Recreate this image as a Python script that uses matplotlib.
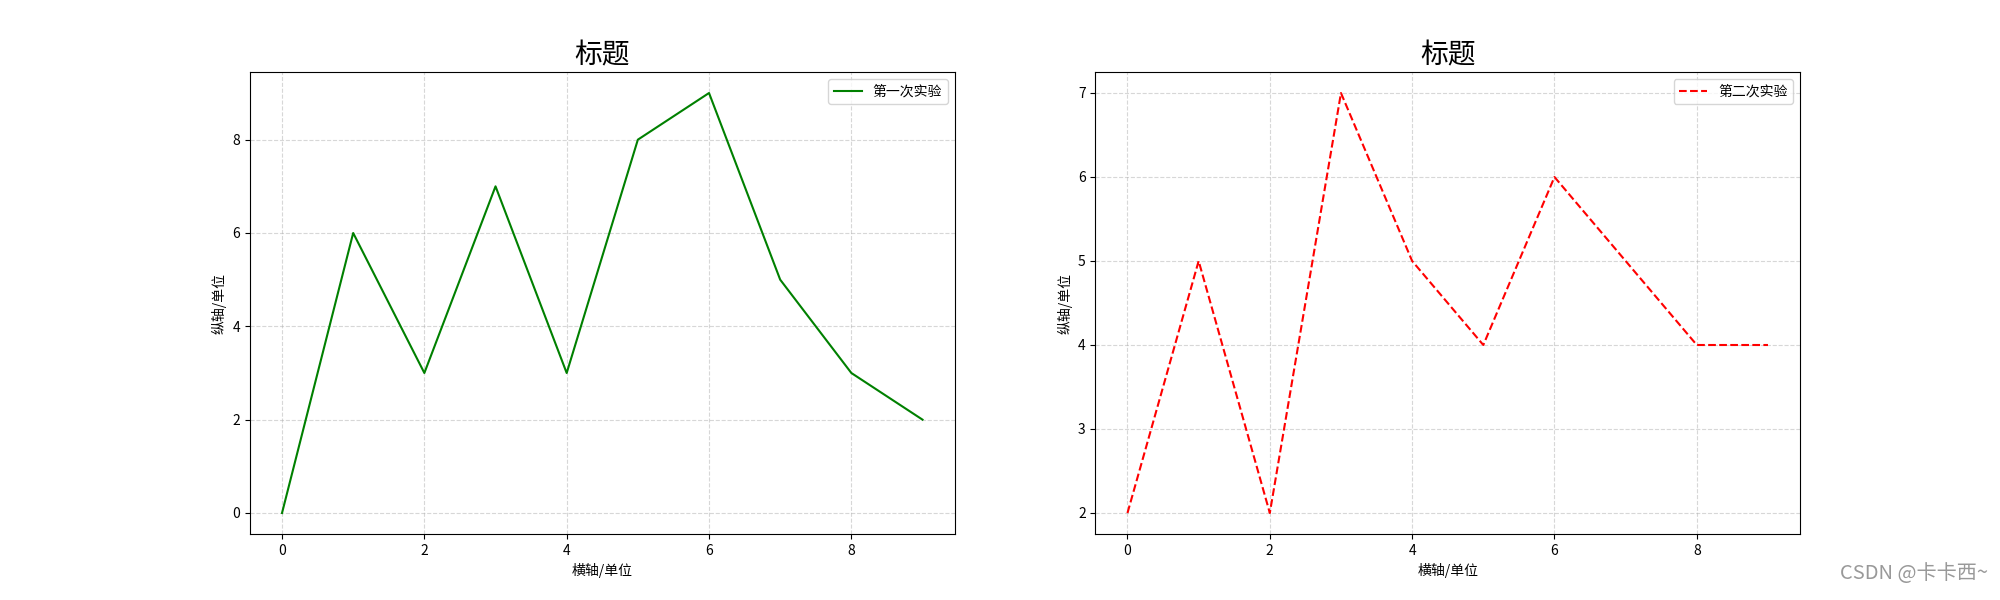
import matplotlib
matplotlib.use("Agg")
import matplotlib.pyplot as plt

plt.rcParams['font.family'] = ['Noto Sans CJK SC', 'DejaVu Sans']
plt.rcParams['axes.unicode_minus'] = False

x = list(range(10))
y1 = [0, 6, 3, 7, 3, 8, 9, 5, 3, 2]
y2 = [2, 5, 2, 7, 5, 4, 6, 5, 4, 4]
title = "标题"
xlabel = "横轴/单位"
ylabel = "纵轴/单位"
label1 = "第一次实验"
label2 = "第二次实验"

fig, axes = plt.subplots(1, 2, figsize=(20, 6), dpi=100)
ax1, ax2 = axes
ax1.plot(x, y1, color='green', linestyle='-', label=label1)
ax2.plot(x, y2, color='red', linestyle='--', label=label2)
for ax in axes:
    ax.set_title(title, fontsize=20)
    ax.set_xlabel(xlabel)
    ax.set_ylabel(ylabel)
    ax.grid(True, linestyle='--', alpha=0.5)
    ax.legend(loc='upper right')

fig.text(0.994, 0.027, "CSDN @卡卡西~", ha='right', va='bottom', fontsize=14.5, color='#999999')
fig.savefig("out.png", dpi=100)
